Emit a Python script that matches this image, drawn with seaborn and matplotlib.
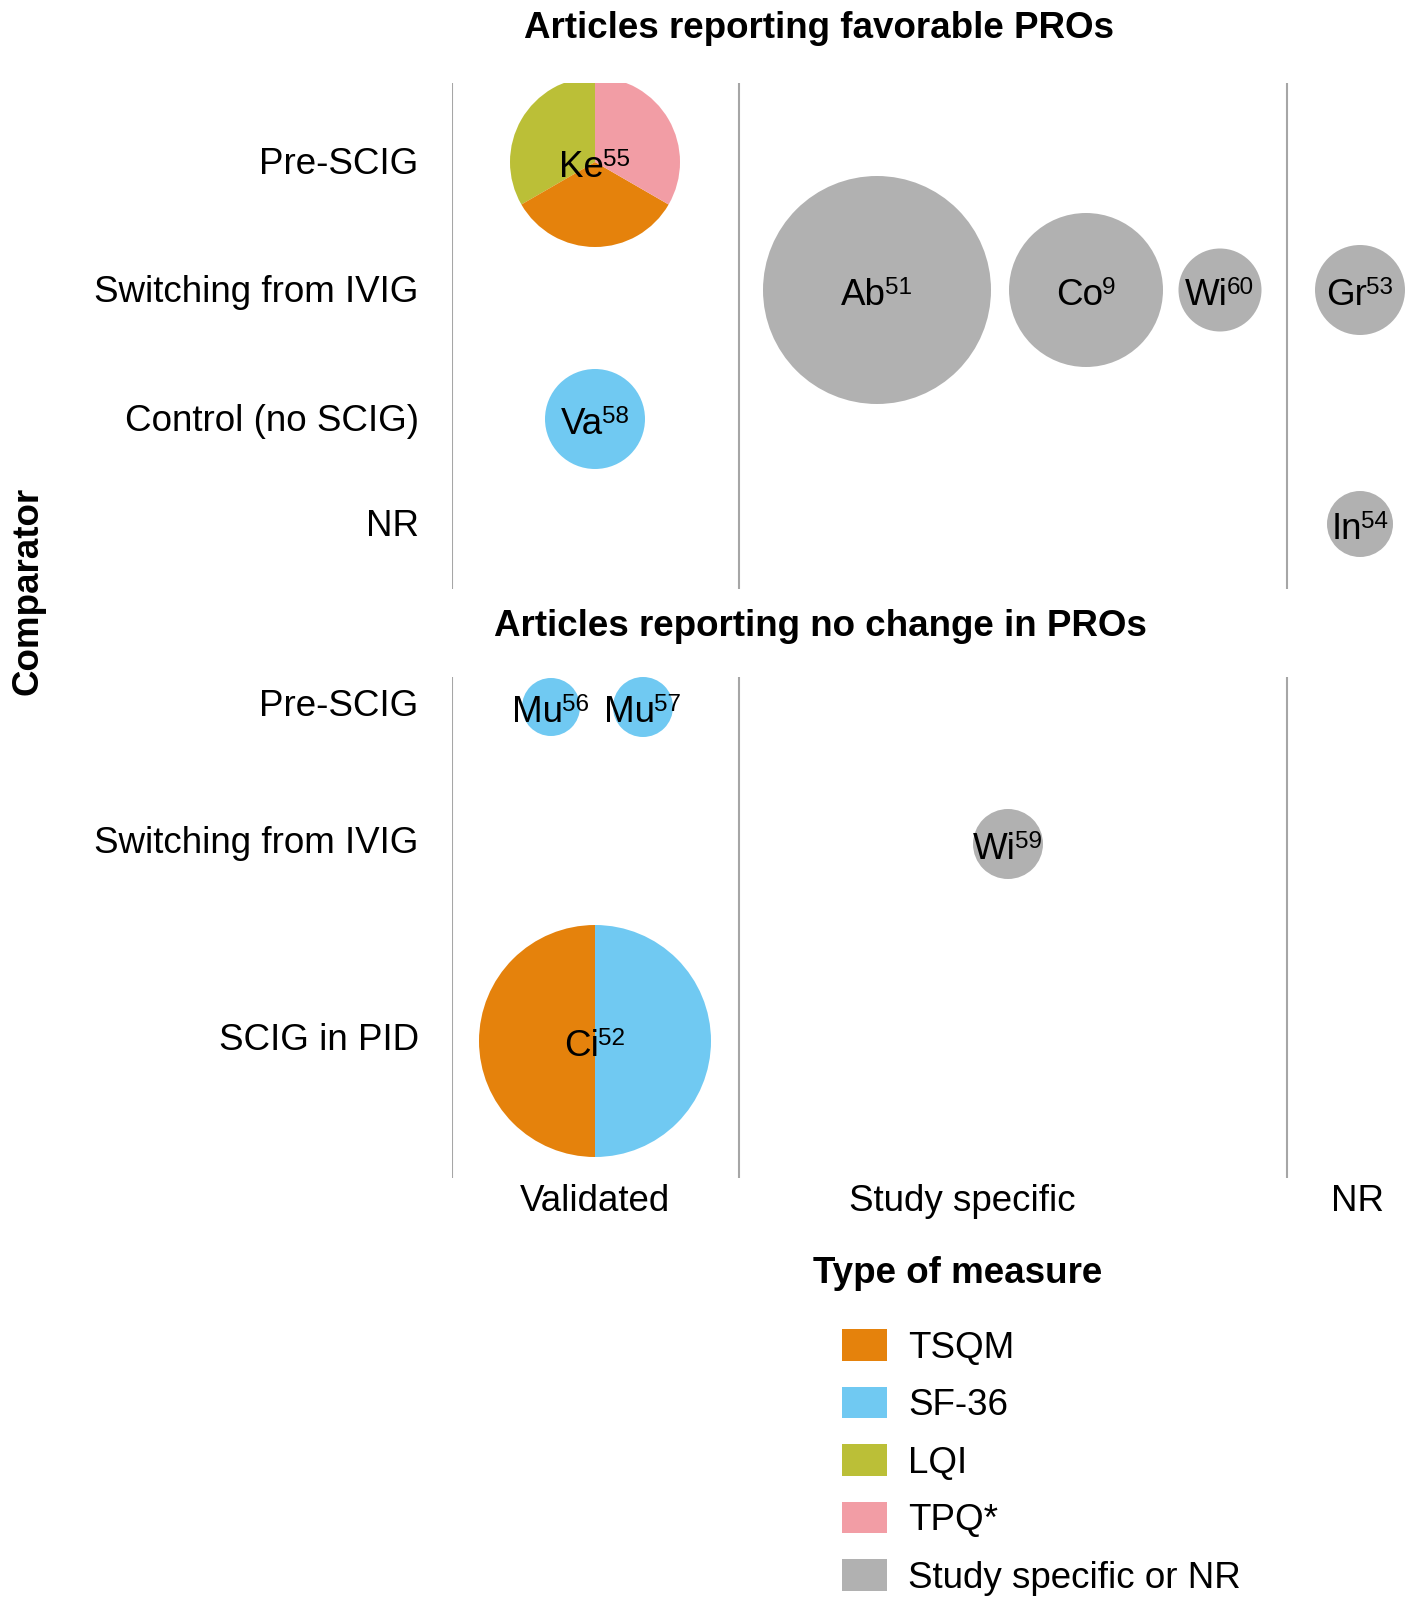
import numpy as np
import pandas as pd
import seaborn as sns
import matplotlib.pyplot as plt
from matplotlib.patches import Wedge, Patch
from matplotlib.transforms import ScaledTranslation

# measure types and their colours
measure_names = ["TSQM", "SF-36", "LQI", "TPQ*", "Study specific or NR"]
measure_colors = ["#E5820C", "#70C9F2", "#BBBF37", "#F29DA5", "#B1B1B1"]

# columns (type of measure) on the x axis
columns = ["Validated", "Study specific", "NR"]
column_x = [1.43, 5.10, 9.06]
column_edges = [0.0, 2.87, 8.35]

# top panel: favorable PROs
top_rows = ["Pre-SCIG", "Switching from IVIG", "Control (no SCIG)", "NR"]
top_row_y = [4.27, 2.99, 1.70, 0.65]
top_study = ["Ke", "Ab", "Co", "Wi", "Gr", "Va", "In"]
top_ref = ["55", "51", "9", "60", "53", "58", "54"]
top_row = [0, 1, 1, 1, 1, 2, 3]
top_x = [1.43, 4.25, 6.34, 7.68, 9.08, 1.43, 9.08]
top_radius = [0.85, 1.14, 0.77, 0.415, 0.45, 0.50, 0.33]
top_measures = [["LQI", "TSQM", "TPQ*"], ["Study specific or NR"], ["Study specific or NR"],
                ["Study specific or NR"], ["Study specific or NR"], ["SF-36"], ["Study specific or NR"]]

# bottom panel: no change in PROs
bottom_rows = ["Pre-SCIG", "Switching from IVIG", "SCIG in PID"]
bottom_row_y = [4.71, 3.34, 1.37]
bottom_study = ["Mu", "Mu", "Wi", "Ci"]
bottom_ref = ["56", "57", "59", "52"]
bottom_row = [0, 0, 1, 2]
bottom_x = [0.99, 1.91, 5.56, 1.43]
bottom_radius = [0.29, 0.30, 0.35, 1.16]
bottom_measures = [["SF-36"], ["SF-36"], ["Study specific or NR"], ["TSQM", "SF-36"]]

sns.set_theme(style="white")
plt.rcParams['font.family'] = ['Liberation Sans', 'DejaVu Sans']
for key in ['text.color', 'axes.labelcolor', 'xtick.color', 'ytick.color']:
    plt.rcParams[key] = 'black'

palette = dict(zip(measure_names, measure_colors))
FS = 26.5
SUP = 17.5
W, H = 1417, 1609
fig = plt.figure(figsize=(W / 100, H / 100), dpi=100)

ax_top = fig.add_axes([452 / W, 1 - 589 / H, 965 / W, 506 / H])
ax_bot = fig.add_axes([452 / W, 1 - 1178 / H, 965 / W, 501 / H])


def draw_panel(ax, study, ref, row, xs, radius, measures, row_y, row_labels, height, lift_pt):
    ax.set_xlim(0, 9.65)
    ax.set_ylim(0, height)
    for e in column_edges:
        ax.axvline(e, color="#A6A6A6", lw=1.5, zorder=0)
    ys = [row_y[r] for r in row]
    df = pd.DataFrame({"x": xs, "y": ys, "r": radius,
                       "measure": [m[0] for m in measures],
                       "n": [len(m) for m in measures]})
    single = df[df["n"] == 1].copy()
    # marker area in points^2 from the radius (100 px per data unit, 0.72 pt per px)
    single["s"] = (2 * single["r"] * 100 * 0.72) ** 2
    sns.scatterplot(data=single, x="x", y="y", hue="measure", palette=palette,
                    size="s", sizes={v: v for v in single["s"].unique()},
                    linewidth=0, legend=False, ax=ax, clip_on=False, zorder=2)
    for i, m in enumerate(measures):
        if len(m) > 1:
            step = 360 / len(m)
            for k, name in enumerate(m):
                ax.add_patch(Wedge((xs[i], ys[i]), radius[i], 90 + k * step, 90 + (k + 1) * step,
                                   facecolor=palette[name], edgecolor="none", zorder=2))
    for i in range(len(study)):
        base = ys[i] - 0.15
        # shift the name left by half the superscript width so the pair is centred
        shift = -len(ref[i]) * 0.556 * SUP / 2
        main = ax.annotate(study[i], xy=(xs[i], base), xytext=(shift, 0),
                           textcoords="offset points", ha="center", va="baseline",
                           fontsize=FS, zorder=3)
        ax.annotate(ref[i], xy=(1, base), xycoords=(main, "data"),
                    xytext=(-0.5, 20.5), textcoords="offset points",
                    ha="left", va="top", fontsize=SUP, zorder=3)
    ax.set_yticks(row_y, labels=row_labels)
    ax.tick_params(axis="y", length=0, pad=24, labelsize=FS)
    lift = ScaledTranslation(0, lift_pt / 72, fig.dpi_scale_trans)
    for lab in ax.get_yticklabels():
        lab.set_transform(lab.get_transform() + lift)
    ax.set_xlabel("")
    ax.set_ylabel("")
    for s in ax.spines.values():
        s.set_visible(False)


draw_panel(ax_top, top_study, top_ref, top_row, top_x, top_radius, top_measures,
           top_row_y, top_rows, 5.06, 1.0)
draw_panel(ax_bot, bottom_study, bottom_ref, bottom_row, bottom_x, bottom_radius, bottom_measures,
           bottom_row_y, bottom_rows, 5.01, 3.0)

ax_top.set_xticks([])
ax_bot.set_xticks(column_x, labels=columns)
ax_bot.tick_params(axis="x", length=0, pad=4, labelsize=FS)

fig.text(819 / W, 1 - 28 / H, "Articles reporting favorable PROs", ha="center", va="center",
         fontsize=FS, weight="bold")
fig.text(820 / W, 1 - 627 / H, "Articles reporting no change in PROs", ha="center", va="center",
         fontsize=FS, weight="bold")
fig.text(28 / W, 1 - 591 / H, "Comparator", rotation=90, ha="center", va="center",
         fontsize=FS, weight="bold")

# legend
fig.text(813 / W, 1 - 1283 / H, "Type of measure", ha="left", va="baseline",
         fontsize=FS, weight="bold")
handles = [Patch(facecolor=c, edgecolor="none", label=m) for m, c in zip(measure_names, measure_colors)]
fig.legend(handles=handles, loc="upper left", bbox_to_anchor=(842 / W, 1 - 1329 / H),
           frameon=False, fontsize=FS, handlelength=1.22, handleheight=0.95,
           handletextpad=0.57, labelspacing=0.57, borderpad=0, borderaxespad=0)

fig.savefig("out.png", dpi=100)
